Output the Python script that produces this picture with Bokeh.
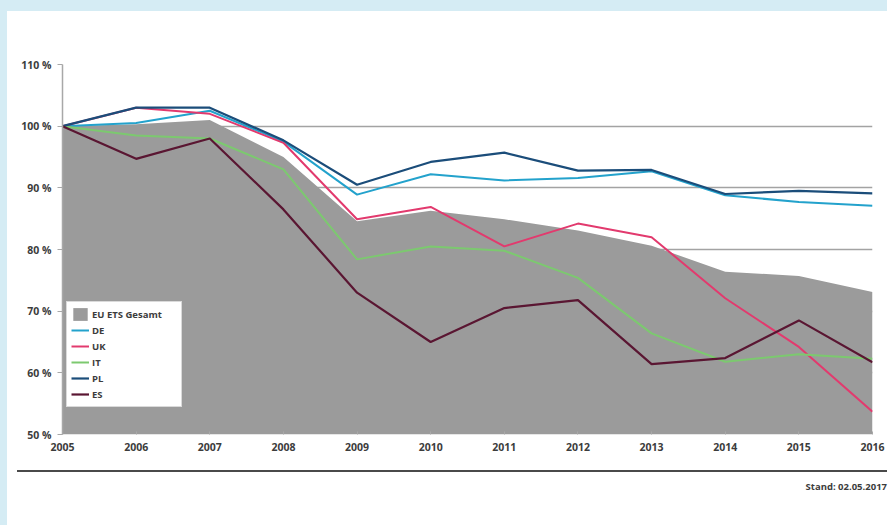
from bokeh.plotting import figure
from bokeh.models import (Range1d, FixedTicker, Legend, LegendItem, ColumnDataSource, Div)
from bokeh.layouts import column, row
from bokeh.embed import file_html
from bokeh.resources import INLINE

years = [2005, 2006, 2007, 2008, 2009, 2010, 2011, 2012, 2013, 2014, 2015, 2016]
eu_ets = [100.0, 100.3, 101.0, 95.0, 84.6, 86.3, 84.9, 83.1, 80.6, 76.4, 75.7, 73.1]
de = [100.0, 100.5, 102.5, 97.5, 88.9, 92.2, 91.2, 91.6, 92.7, 88.8, 87.7, 87.1]
uk = [100.0, 103.0, 102.0, 97.3, 84.9, 86.9, 80.5, 84.2, 82.0, 72.1, 64.2, 53.7]
it = [100.0, 98.5, 98.0, 93.0, 78.4, 80.5, 79.8, 75.4, 66.4, 61.8, 63.0, 62.3]
pl = [100.0, 103.0, 103.0, 97.7, 90.5, 94.2, 95.7, 92.8, 92.9, 89.0, 89.5, 89.1]
es = [100.0, 94.7, 98.0, 86.5, 73.0, 65.0, 70.5, 71.8, 61.4, 62.4, 68.5, 61.7]

y_ticks = [50, 60, 70, 80, 90, 100, 110]
y_tick_labels = ["50 %", "60 %", "70 %", "80 %", "90 %", "100 %", "110 %"]
x_tick_labels = [str(y) for y in years]
series_names = ["EU ETS Gesamt", "DE", "UK", "IT", "PL", "ES"]
stand_text = "Stand: 02.05.2017"

FONT = "Open Sans"
TXT = "#3c3c3c"
FRAME_BLUE = "#d5ecf4"

src = ColumnDataSource(dict(year=years, eu=eu_ets, base=[y_ticks[0]] * len(years),
                            de=de, uk=uk, it=it, pl=pl, es=es))

p = figure(frame_width=810, frame_height=370,
           x_range=Range1d(years[0], years[-1]), y_range=Range1d(y_ticks[0], y_ticks[-1]),
           output_backend="svg", toolbar_location=None,
           min_border_left=55, min_border_right=15, min_border_top=53, min_border_bottom=29)
p.outline_line_color = None
p.background_fill_color = "white"
p.border_fill_color = "white"

# grid
p.xgrid.grid_line_color = None
p.ygrid.ticker = FixedTicker(ticks=y_ticks)
p.ygrid.grid_line_color = "#a3a3a3"
p.ygrid.grid_line_width = 1.6

# axes
p.yaxis.ticker = FixedTicker(ticks=y_ticks)
p.yaxis.major_label_overrides = {t: l for t, l in zip(y_ticks, y_tick_labels)}
p.xaxis.ticker = FixedTicker(ticks=years)
p.xaxis.major_label_overrides = {t: l for t, l in zip(years, x_tick_labels)}
for ax in (p.xaxis, p.yaxis):
    ax.axis_line_color = "#a8a8a8"
    ax.axis_line_width = 1.5
    ax.major_tick_line_color = "#a8a8a8"
    ax.minor_tick_line_color = None
    ax.major_label_text_font = FONT
    ax.major_label_text_font_size = "10.5px"
    ax.major_label_text_font_style = "bold"
    ax.major_label_text_color = TXT
p.yaxis.major_tick_out = 5
p.yaxis.major_tick_in = 0
p.yaxis.major_label_standoff = 6
p.xaxis.major_tick_out = 0
p.xaxis.major_tick_in = 3
p.xaxis.major_label_standoff = 8
p.xaxis.axis_line_color = None

area = p.varea(x="year", y1="base", y2="eu", source=src, fill_color="#9b9b9b", fill_alpha=1.0)
r_de = p.line("year", "de", source=src, line_color="#23a2cc", line_width=2)
r_uk = p.line("year", "uk", source=src, line_color="#e23a6e", line_width=2)
r_it = p.line("year", "it", source=src, line_color="#7cc96f", line_width=2)
r_pl = p.line("year", "pl", source=src, line_color="#1b4d7a", line_width=2.2)
r_es = p.line("year", "es", source=src, line_color="#5a1632", line_width=2.2)

legend = Legend(items=[LegendItem(label=n, renderers=[r]) for n, r in
                       zip(series_names, [area, r_de, r_uk, r_it, r_pl, r_es])],
                location=(4, 27))
legend.label_text_font = FONT
legend.label_text_font_size = "9.5px"
legend.label_text_font_style = "bold"
legend.label_text_color = TXT
legend.label_height = 16
legend.glyph_height = 16
legend.glyph_width = 18
legend.label_width = 85
legend.label_standoff = 3
legend.spacing = 0
legend.padding = 4
legend.margin = 0
legend.border_line_color = "#b5b5b5"
legend.border_line_width = 1
legend.background_fill_color = "white"
legend.background_fill_alpha = 1.0
p.add_layout(legend)

# footer: separator line and date
footer_html = (
    '<div style="margin:7px 0 0 10px; width:870px; border-top:2px solid #4a4a4a; height:0;"></div>'
    '<div style="margin-top:9px; width:880px; text-align:right; font-family:\'Open Sans\'; font-weight:bold; '
    'font-size:9.5px; line-height:12px; color:%s;">%s</div>' % (TXT, stand_text)
)
footer = Div(text=footer_html, width=880, height=50, margin=0,
             styles={"background-color": "white"})

# light blue page frame (top and left strips)
left_strip = Div(text="", width=7, height=525, margin=0,
                 styles={"background-color": FRAME_BLUE})
top_strip = Div(text="", width=880, height=11, margin=0,
                styles={"background-color": FRAME_BLUE})

layout = row(left_strip, column(top_strip, p, footer, spacing=0), spacing=0)
open("out.html", "w").write(file_html(layout, INLINE))
